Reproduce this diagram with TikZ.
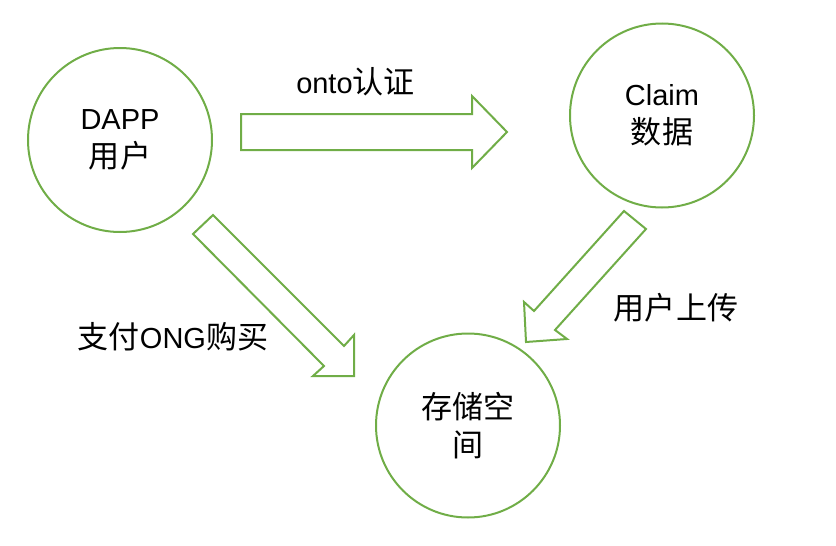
\documentclass[tikz,border=0pt]{standalone}
\usepackage{fontspec}
\setmainfont{Liberation Sans}
\newfontfamily\cjk[Scale=1.07]{Noto Sans CJK SC}
\definecolor{lgreen}{RGB}{112,173,71}
\tikzset{
  circnode/.style={circle, draw=lgreen, line width=2pt, minimum size=184pt, inner sep=0pt, align=center, font=\fontsize{29}{38.5}\selectfont},
  lbl/.style={inner sep=0pt, font=\fontsize{29}{38}\selectfont},
  blockarrow/.style={draw=lgreen, line width=2pt, line join=miter, fill=white}
}
\begin{document}
\begin{tikzpicture}[x=1pt, y=-1pt]
\useasboundingbox (0,0) rectangle (836,546);
\node[circnode] (dapp) at (120,140) {DAPP\\{\cjk 用户}};
\node[circnode] (claim) at (662,115.5) {Claim\\{\cjk 数据}};
\node[circnode] (store) at (468,425.5) {{\cjk 存储空}\\{\cjk 间}};
% block arrows
\coordinate (a1h) at (507,132);
\draw[blockarrow] (241,114) -- (472,114) -- (472,96) -- (a1h) -- (472,168) -- (472,150) -- (241,150) -- cycle;
\coordinate (a2h) at (354,376);
\draw[blockarrow] (213,215) -- (344,346) -- (354,335) -- (a2h) -- (313,376) -- (324,366) -- (193,234) -- cycle;
\coordinate (a3h) at (526,342);
\draw[blockarrow] (624,211) -- (646,229) -- (555,330) -- (567,339) -- (a3h) -- (524,302) -- (534,311) -- cycle;
% labels
\node[lbl] (l1) at (355.5,82) {onto{\cjk 认证}};
\node[lbl] (l2) at (173,337) {{\cjk 支付}ONG{\cjk 购买}};
\node[lbl] (l3) at (676,308) {{\cjk 用户上传}};
\end{tikzpicture}
\end{document}
